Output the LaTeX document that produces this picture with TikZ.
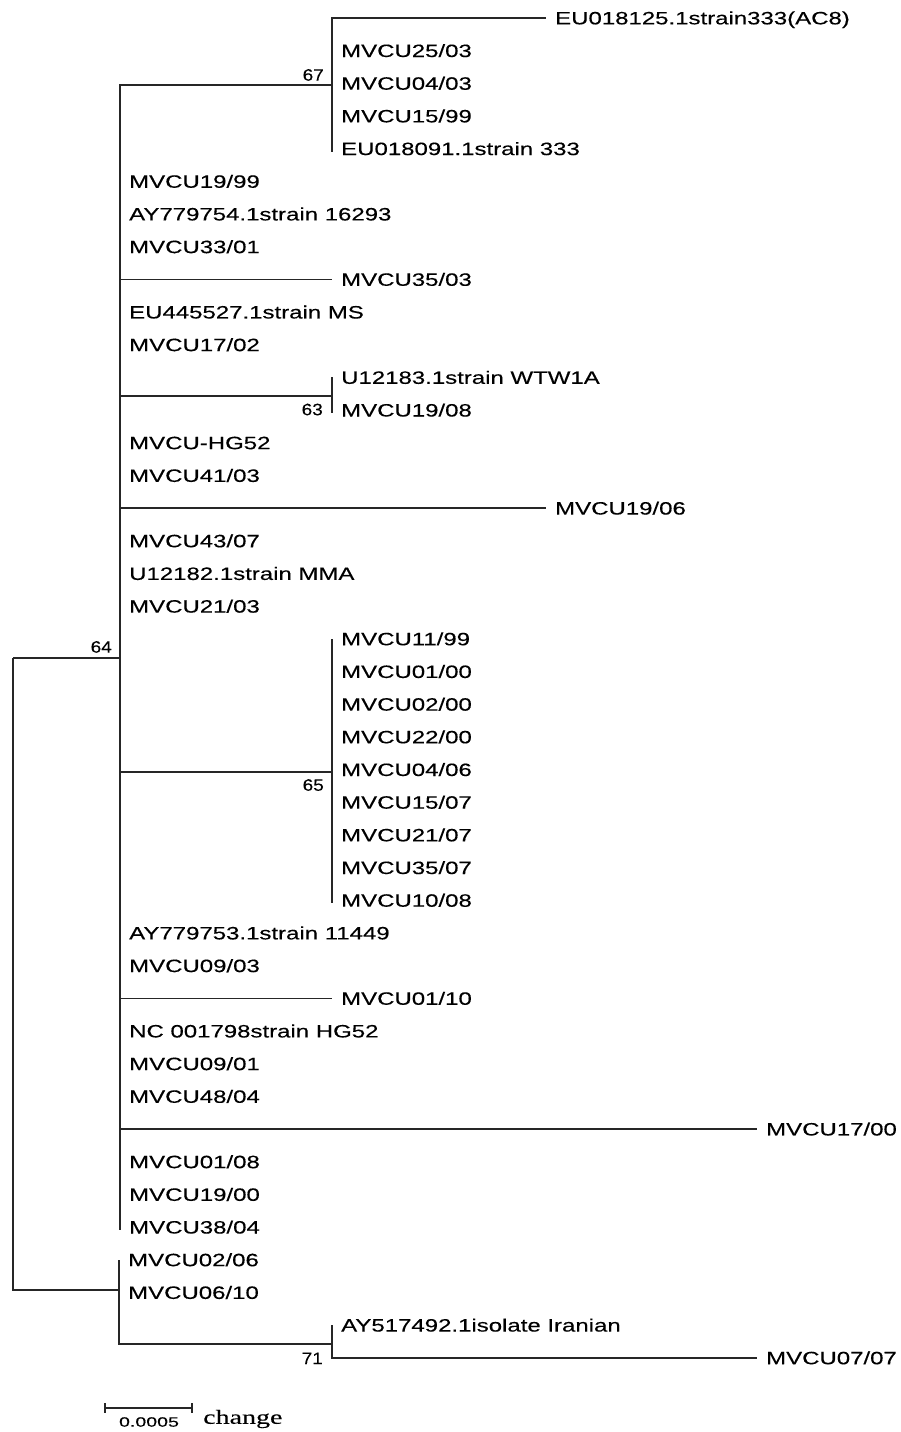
\documentclass[tikz,border=0pt]{standalone}
\usepackage{fontspec}
\setmainfont[FakeStretch=1.34,FakeBold=0.3]{Liberation Sans}
\newfontfamily\bootfont[FakeStretch=1.15,FakeBold=0.2]{Liberation Sans}
\newfontfamily\barfont[FakeStretch=1.45,FakeBold=0.2]{Liberation Sans}
\newfontfamily\changefont[FakeStretch=1.4,FakeBold=0.2]{Liberation Serif}
\def\rs{32.68}
\tikzset{
  tip/.style={anchor=west, inner xsep=9pt, inner ysep=0pt, text height=12.7pt,
    text depth=0pt, font=\fontsize{17.9}{20}\selectfont},
  boot/.style={inner sep=0pt, font=\bootfont\fontsize{16.5}{18}\selectfont},
  branch/.style={line width=1.5pt, black!85},
  bar/.style={line width=1.2pt, black!85}
}
\begin{document}
\begin{tikzpicture}[x=1pt,y=-1pt]
  \useasboundingbox (0,0) rectangle (901,1432);
  \coordinate (root) at (13,658);
  \coordinate (n64) at (120,658);
  \coordinate (n67) at (332,85);
  \coordinate (n63) at (332,396);
  \coordinate (n65) at (332,772);
  \coordinate (nB) at (119,1290);
  \coordinate (n71) at (332,1344);
  \draw
    (546,{18+0*\rs}) node[tip] (t0) {EU018125.1strain333(AC8)}
    (332,{18+1*\rs}) node[tip] (t1) {MVCU25/03}
    (332,{18+2*\rs}) node[tip] (t2) {MVCU04/03}
    (332,{18+3*\rs}) node[tip] (t3) {MVCU15/99}
    (332,{18+4*\rs}) node[tip] (t4) {EU018091.1strain 333}
    (120,{18+5*\rs}) node[tip] (t5) {MVCU19/99}
    (120,{18+6*\rs}) node[tip] (t6) {AY779754.1strain 16293}
    (120,{18+7*\rs}) node[tip] (t7) {MVCU33/01}
    (332,{18+8*\rs}) node[tip] (t8) {MVCU35/03}
    (120,{18+9*\rs}) node[tip] (t9) {EU445527.1strain MS}
    (120,{18+10*\rs}) node[tip] (t10) {MVCU17/02}
    (332,{18+11*\rs}) node[tip] (t11) {U12183.1strain WTW1A}
    (332,{18+12*\rs}) node[tip] (t12) {MVCU19/08}
    (120,{18+13*\rs}) node[tip] (t13) {MVCU-HG52}
    (120,{18+14*\rs}) node[tip] (t14) {MVCU41/03}
    (546,{18+15*\rs}) node[tip] (t15) {MVCU19/06}
    (120,{18+16*\rs}) node[tip] (t16) {MVCU43/07}
    (120,{18+17*\rs}) node[tip] (t17) {U12182.1strain MMA}
    (120,{18+18*\rs}) node[tip] (t18) {MVCU21/03}
    (332,{18+19*\rs}) node[tip] (t19) {MVCU11/99}
    (332,{18+20*\rs}) node[tip] (t20) {MVCU01/00}
    (332,{18+21*\rs}) node[tip] (t21) {MVCU02/00}
    (332,{18+22*\rs}) node[tip] (t22) {MVCU22/00}
    (332,{18+23*\rs}) node[tip] (t23) {MVCU04/06}
    (332,{18+24*\rs}) node[tip] (t24) {MVCU15/07}
    (332,{18+25*\rs}) node[tip] (t25) {MVCU21/07}
    (332,{18+26*\rs}) node[tip] (t26) {MVCU35/07}
    (332,{18+27*\rs}) node[tip] (t27) {MVCU10/08}
    (120,{18+28*\rs}) node[tip] (t28) {AY779753.1strain 11449}
    (120,{18+29*\rs}) node[tip] (t29) {MVCU09/03}
    (332,{18+30*\rs}) node[tip] (t30) {MVCU01/10}
    (120,{18+31*\rs}) node[tip] (t31) {NC 001798strain HG52}
    (120,{18+32*\rs}) node[tip] (t32) {MVCU09/01}
    (120,{18+33*\rs}) node[tip] (t33) {MVCU48/04}
    (757,{18+34*\rs}) node[tip] (t34) {MVCU17/00}
    (120,{18+35*\rs}) node[tip] (t35) {MVCU01/08}
    (120,{18+36*\rs}) node[tip] (t36) {MVCU19/00}
    (120,{18+37*\rs}) node[tip] (t37) {MVCU38/04}
    (119,{18+38*\rs}) node[tip] (t38) {MVCU02/06}
    (119,{18+39*\rs}) node[tip] (t39) {MVCU06/10}
    (332,{18+40*\rs}) node[tip] (t40) {AY517492.1isolate Iranian}
    (757,{18+41*\rs}) node[tip] (t41) {MVCU07/07};
  \node[boot, anchor=south east] (b67) at ([xshift=-8pt,yshift=4pt]n67) {67};
  \node[boot, anchor=south east] (b64) at ([xshift=-8pt,yshift=5pt]n64) {64};
  \node[boot, anchor=north east] (b63) at ([xshift=-9pt,yshift=-7.5pt]n63) {63};
  \node[boot, anchor=north east] (b65) at ([xshift=-8pt,yshift=-7pt]n65) {65};
  \node[boot, anchor=north east] (b71) at ([xshift=-9pt,yshift=-8.5pt]n71) {71};
  \begin{scope}[branch]
    \draw (root) |- (n64);
    \draw (root) |- (nB);
    \draw (n64) |- (n67);
    \draw (n64) |- (t37.west) -- ++(0,3);
    \draw (n64) |- (t8.west);
    \draw (n64) |- (n63);
    \draw (n64) |- (t15.west);
    \draw (n64) |- (n65);
    \draw (n64) |- (t30.west);
    \draw (n64) |- (t34.west);
    \draw (n67) |- (t0.west);
    \draw (n67) |- (t4.west) -- ++(0,3);
    \draw (n63) |- (t11.west);
    \draw (n63) |- (t12.west) -- ++(0,3);
    \draw (n65) |- (t19.west);
    \draw (n65) |- (t27.west) -- ++(0,3);
    \draw (nB) |- (t38.west);
    \draw (nB) |- (n71);
    \draw (n71) |- (t40.west);
    \draw (n71) |- (t41.west);
  \end{scope}
  \coordinate (s0) at (105,1408);
  \coordinate (s1) at (192,1408);
  \draw[bar] (s0) -- (s1);
  \draw[bar] ([yshift=5pt]s0) -- ([yshift=-5pt]s0);
  \draw[bar] ([yshift=5pt]s1) -- ([yshift=-5pt]s1);
  \node[inner sep=0pt, font=\barfont\fontsize{13.5}{15}\selectfont] (len) at (149,1422) {0.0005};
  \node[inner sep=0pt, anchor=west, font=\changefont\fontsize{20}{22}\selectfont] (chg) at (203,1419) {change};
\end{tikzpicture}
\end{document}
